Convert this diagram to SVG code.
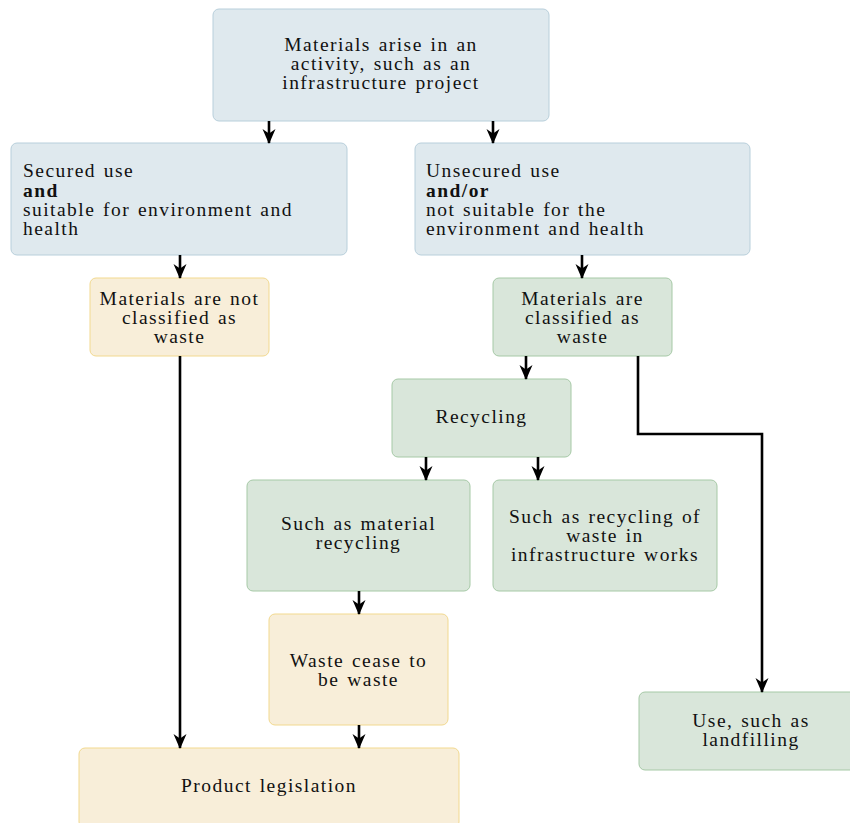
<svg xmlns="http://www.w3.org/2000/svg" width="850" height="823" viewBox="0 0 850 823">
  <style>
    .box { stroke-width: 1; }
    .blue { fill: #dfe9ee; stroke: #b8cfdb; }
    .yellow { fill: #f8eed9; stroke: #f2d98f; }
    .green { fill: #d9e6da; stroke: #a6c9a6; }
    text { font-family: "Liberation Serif", "Times New Roman", serif; font-size: 19.5px; fill: #111; letter-spacing: 1.45px; word-spacing: 1.5px; }
    .c { text-anchor: middle; }
    .b { font-weight: bold; }
    .edge { fill: none; stroke: #000; stroke-width: 2.6; }
  </style>
  <defs>
    <marker id="stealth" viewBox="0 0 15 14" refX="14" refY="7" markerWidth="15" markerHeight="14" markerUnits="userSpaceOnUse" orient="auto">
      <path d="M0,0.5 L15,7 L0,13.5 L4.5,7 Z" fill="#000"/>
    </marker>
  </defs>

  <g id="activity">
    <rect class="box blue" x="213" y="9" width="336" height="112" rx="6"/>
    <text class="c" x="381" y="51">Materials arise in an</text>
    <text class="c" x="381" y="70">activity, such as an</text>
    <text class="c" x="381" y="89">infrastructure project</text>
  </g>

  <g id="secured">
    <rect class="box blue" x="11" y="143" width="336" height="112" rx="6"/>
    <text x="23" y="177">Secured use</text>
    <text class="b" x="23" y="197">and</text>
    <text x="23" y="216">suitable for environment and</text>
    <text x="23" y="235">health</text>
  </g>

  <g id="unsecured">
    <rect class="box blue" x="415" y="143" width="335" height="112" rx="6"/>
    <text x="426" y="177">Unsecured use</text>
    <text class="b" x="426" y="197">and/or</text>
    <text x="426" y="216">not suitable for the</text>
    <text x="426" y="235">environment and health</text>
  </g>

  <g id="not-waste">
    <rect class="box yellow" x="90" y="278" width="179" height="78" rx="6"/>
    <text class="c" x="179.5" y="305">Materials are not</text>
    <text class="c" x="179.5" y="324">classified as</text>
    <text class="c" x="179.5" y="343">waste</text>
  </g>

  <g id="waste">
    <rect class="box green" x="493" y="278" width="179" height="78" rx="6"/>
    <text class="c" x="582.5" y="305">Materials are</text>
    <text class="c" x="582.5" y="324">classified as</text>
    <text class="c" x="582.5" y="343">waste</text>
  </g>

  <g id="recycling">
    <rect class="box green" x="392" y="379" width="179" height="78" rx="6"/>
    <text class="c" x="481.5" y="423">Recycling</text>
  </g>

  <g id="material-recycling">
    <rect class="box green" x="247" y="480" width="223" height="111" rx="6"/>
    <text class="c" x="358.5" y="530">Such as material</text>
    <text class="c" x="358.5" y="549">recycling</text>
  </g>

  <g id="infrastructure-recycling">
    <rect class="box green" x="493" y="480" width="224" height="111" rx="6"/>
    <text class="c" x="605" y="523">Such as recycling of</text>
    <text class="c" x="605" y="542">waste in</text>
    <text class="c" x="605" y="561">infrastructure works</text>
  </g>

  <g id="cease">
    <rect class="box yellow" x="269" y="614" width="179" height="111" rx="6"/>
    <text class="c" x="358.5" y="667">Waste cease to</text>
    <text class="c" x="358.5" y="686">be waste</text>
  </g>

  <g id="product">
    <rect class="box yellow" x="79" y="748" width="380" height="80" rx="6"/>
    <text class="c" x="269" y="792">Product legislation</text>
  </g>

  <g id="landfill">
    <rect class="box green" x="639" y="692" width="224" height="78" rx="6"/>
    <text class="c" x="751" y="727">Use, such as</text>
    <text class="c" x="751" y="746">landfilling</text>
  </g>

  <g id="connectors">
    <path class="edge" d="M269,121 V143" marker-end="url(#stealth)"/>
    <path class="edge" d="M493,121 V143" marker-end="url(#stealth)"/>
    <path class="edge" d="M180,255 V278" marker-end="url(#stealth)"/>
    <path class="edge" d="M582,255 V278" marker-end="url(#stealth)"/>
    <path class="edge" d="M526,356 V379" marker-end="url(#stealth)"/>
    <path class="edge" d="M638,356 V434 H762 V692" marker-end="url(#stealth)"/>
    <path class="edge" d="M426,457 V480" marker-end="url(#stealth)"/>
    <path class="edge" d="M538,457 V480" marker-end="url(#stealth)"/>
    <path class="edge" d="M359,591 V614" marker-end="url(#stealth)"/>
    <path class="edge" d="M359,725 V748" marker-end="url(#stealth)"/>
    <path class="edge" d="M180,356 V748" marker-end="url(#stealth)"/>
  </g>
</svg>
